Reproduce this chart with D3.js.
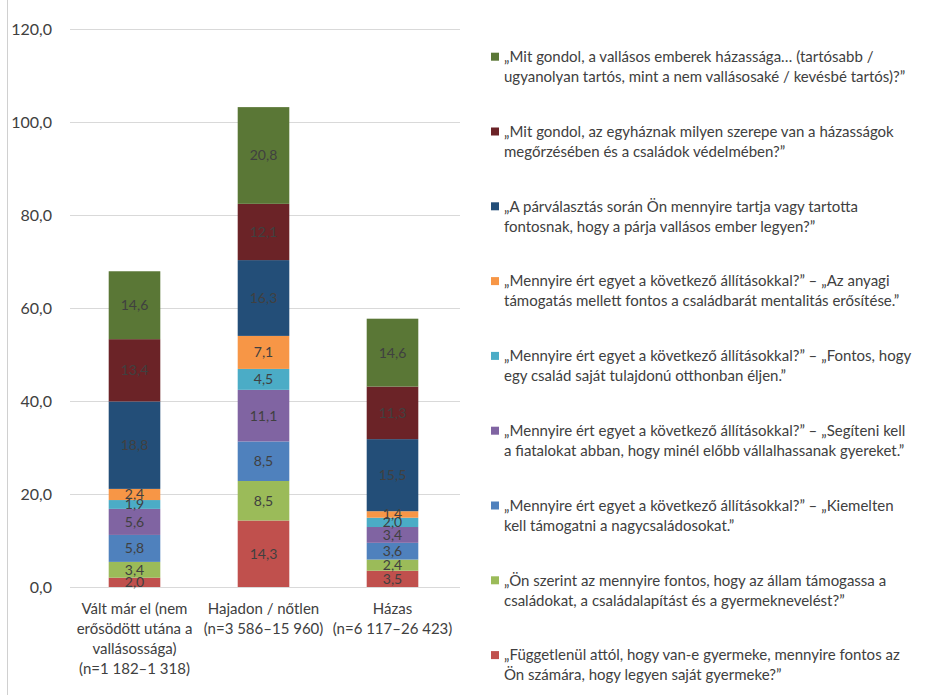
<!DOCTYPE html>
<html><head><meta charset="utf-8">
<script src="https://cdn.jsdelivr.net/npm/d3@7"></script>
<style>
html,body{margin:0;padding:0;background:#fff;}
svg{display:block;font-family:Lato,"Open Sans",sans-serif;}
</style></head>
<body>
<svg id="c" width="927" height="695"></svg>
<script>
// ---- data ----
const categories = [
  ["Vált már el (nem", "erősödött utána a", "vallásossága)", "(n=1 182–1 318)"],
  ["Hajadon / nőtlen", "(n=3 586–15 960)"],
  ["Házas", "(n=6 117–26 423)"]
];
const yTicks = [0, 20, 40, 60, 80, 100, 120];

// series, stacking order bottom -> top
const sajatGyermek   = [2.0, 14.3, 3.5];
const allamTamogat   = [3.4, 8.5, 2.4];
const nagycsaladok   = [5.8, 8.5, 3.6];
const fiatalok       = [5.6, 11.1, 3.4];
const sajatOtthon    = [1.9, 4.5, 2.0];
const mentalitas     = [2.4, 7.1, 1.4];
const parvalasztas   = [18.8, 16.3, 15.5];
const egyhazSzerepe  = [13.4, 12.1, 11.3];
const vallasosHazas  = [14.6, 20.8, 14.6];

const seriesValues = [sajatGyermek, allamTamogat, nagycsaladok, fiatalok, sajatOtthon,
                      mentalitas, parvalasztas, egyhazSzerepe, vallasosHazas];
const seriesColors = ["#c0504d", "#9bbb59", "#4f81bd", "#8064a2", "#4bacc6",
                      "#f79646", "#234e78", "#6b2327", "#5a7736"];
const seriesLabels = [
  ["„Független​ül attól, hogy van-e gyermeke, mennyire fontos az", "Ön számára, hogy legyen saját gyermeke?”"],
  ["„Ön szerint az mennyire fontos, hogy az állam támogassa a", "családokat, a családalapítást és a gyermeknevelést?”"],
  ["„Mennyire ért egyet a következő állításokkal?” – „Kiemelten", "kell támogatni a nagycsaládosokat.”"],
  ["„Mennyire ért egyet a következő állításokkal?” – „Segíteni kell", "a fiatalokat abban, hogy minél előbb vállalhassanak gyereket.”"],
  ["„Mennyire ért egyet a következő állításokkal?” – „Fontos, hogy", "egy család saját tulajdonú otthonban éljen.”"],
  ["„Mennyire ért egyet a következő állításokkal?” – „Az anyagi", "támogatás mellett fontos a családbarát mentalitás erősítése.”"],
  ["„A párválasztás során Ön mennyire tartja vagy tartotta", "fontosnak, hogy a párja vallásos ember legyen?”"],
  ["„Mit gondol, az egyháznak milyen szerepe van a házasságok", "megőrzésében és a családok védelmében?”"],
  ["„Mit gondol, a vallásos emberek házassága… (tartósabb /", "ugyanolyan tartós, mint a nem vallásosaké / kevésbé tartós)?”"]
];
seriesLabels[0][0] = seriesLabels[0][0].replace("\u200b", "");

// ---- chart ----
const svg = d3.select("#c");
const fmt = v => d3.format(".1f")(v).replace(".", ",");

const x = d3.scaleBand().domain(d3.range(categories.length)).range([70, 457]).paddingInner(0.6).paddingOuter(0.3);
const y = d3.scaleLinear().domain([0, 120]).range([587, 29]);

// left border line
svg.append("line").attr("x1", 7.5).attr("x2", 7.5).attr("y1", 0).attr("y2", 695)
  .attr("stroke", "#d0d0d0").attr("stroke-width", 1);

// grid
svg.append("g").selectAll("line").data(yTicks).join("line")
  .attr("x1", 70).attr("x2", 460)
  .attr("y1", d => Math.round(y(d)) + 0.5).attr("y2", d => Math.round(y(d)) + 0.5)
  .attr("stroke", "#d9d9d9").attr("stroke-width", 1);

// y axis labels
const yAxis = d3.axisLeft(y).tickValues(yTicks).tickFormat(fmt).tickSize(0).tickPadding(0);
const gy = svg.append("g").attr("transform", "translate(52,0)").call(yAxis);
gy.select(".domain").remove();
gy.selectAll("text").attr("font-size", 16).attr("fill", "#404040").attr("font-family", "Lato, sans-serif");

// stack
const rows = categories.map((c, i) => {
  const r = {i};
  seriesValues.forEach((s, k) => r["s" + k] = s[i]);
  return r;
});
const keys = seriesValues.map((s, k) => "s" + k);
const stacked = d3.stack().keys(keys)(rows);

const gBars = svg.append("g");
stacked.forEach((layer, k) => {
  gBars.append("g").selectAll("rect").data(layer).join("rect")
    .attr("x", d => x(d.data.i))
    .attr("width", x.bandwidth())
    .attr("y", d => y(d[1]))
    .attr("height", d => y(d[0]) - y(d[1]))
    .attr("fill", seriesColors[k]);
});
stacked.forEach((layer, k) => {
  gBars.append("g").selectAll("text").data(layer).join("text")
    .attr("x", d => x(d.data.i) + x.bandwidth() / 2)
    .attr("y", d => (y(d[0]) + y(d[1])) / 2)
    .attr("dy", "0.35em")
    .attr("text-anchor", "middle")
    .attr("font-size", 14)
    .attr("fill", "#404040")
    .text(d => fmt(d[1] - d[0]));
});

// x labels
const gx = svg.append("g");
categories.forEach((lines, i) => {
  const t = gx.append("text").attr("text-anchor", "middle").attr("font-size", 15).attr("fill", "#404040");
  lines.forEach((ln, j) => {
    t.append("tspan").attr("x", x(i) + x.bandwidth() / 2).attr("y", 609 + j * 20).attr("dy", "0.35em").text(ln);
  });
});

// legend (top = last series)
const legendOrder = d3.range(seriesValues.length).reverse();
const gl = svg.append("g");
legendOrder.forEach((k, idx) => {
  const cy = 56.7 + idx * 74.8;
  gl.append("rect").attr("x", 491).attr("y", cy - 4).attr("width", 8).attr("height", 8).attr("fill", seriesColors[k]);
  const t = gl.append("text").attr("font-size", 15).attr("fill", "#404040");
  seriesLabels[k].forEach((ln, j) => {
    t.append("tspan").attr("x", j === 0 ? 504 : 504).attr("y", cy + j * 20).attr("dy", "0.35em").text(ln);
  });
});
</script>
</body></html>
